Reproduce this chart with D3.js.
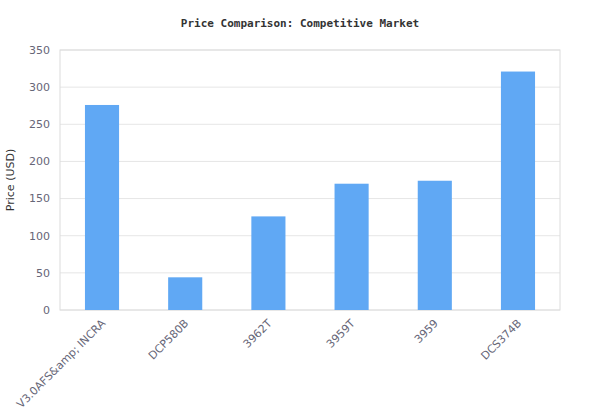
<!DOCTYPE html>
<html><head><meta charset="utf-8">
<script src="https://cdn.jsdelivr.net/npm/d3@7"></script>
<style>body{margin:0;background:#fff}</style></head>
<body><svg id="c" width="600" height="420"></svg>
<script>
const categories = ["V3.0AFS&amp; INCRA","DCP580B","3962T","3959T","3959","DCS374B"];
const prices = [276, 44, 126, 170, 174, 321];
const yTicks = [0,50,100,150,200,250,300,350];

const svg = d3.select("#c");
const m = {l:60, r:560, t:50, b:310};
const x = d3.scaleBand().domain(categories).range([m.l, m.r]).paddingInner(0.59).paddingOuter(0.3);
const y = d3.scaleLinear().domain([0,350]).range([m.b, m.t]);

svg.append("g").selectAll("line").data(yTicks).join("line")
  .attr("x1", m.l).attr("x2", m.r).attr("y1", d=>y(d)).attr("y2", d=>y(d))
  .attr("stroke", "#e6e6e6");
svg.append("rect").attr("x", m.l).attr("y", m.t).attr("width", m.r-m.l).attr("height", m.b-m.t)
  .attr("fill","none").attr("stroke","#dcdcdc");

svg.append("g").selectAll("rect").data(prices).join("rect")
  .attr("x", (d,i)=>x(categories[i])).attr("width", x.bandwidth())
  .attr("y", d=>y(d)).attr("height", d=>y(0)-y(d)).attr("fill", "#60a8f4");

svg.append("g").selectAll("text").data(yTicks).join("text")
  .attr("x", m.l-10).attr("y", d=>y(d)).attr("dy","0.35em").attr("text-anchor","end")
  .attr("font-family","DejaVu Sans").attr("font-size",11).attr("fill","#666677").text(d=>d);

svg.append("g").selectAll("text").data(categories).join("text")
  .attr("transform", d=>`translate(${x(d)+x.bandwidth()/2+4},${m.b+14}) rotate(-45)`)
  .attr("text-anchor","end").attr("font-family","DejaVu Sans").attr("font-size",11)
  .attr("fill","#666677").text(d=>d);

svg.append("text").attr("transform","translate(14,180) rotate(-90)").attr("text-anchor","middle")
  .attr("font-family","DejaVu Sans").attr("font-size",11).attr("fill","#333").text("Price (USD)");

svg.append("text").attr("x",300).attr("y",27).attr("text-anchor","middle")
  .attr("font-family","DejaVu Sans Mono").attr("font-weight","bold").attr("font-size",11)
  .attr("fill","#333").text("Price Comparison: Competitive Market");
</script></body></html>
